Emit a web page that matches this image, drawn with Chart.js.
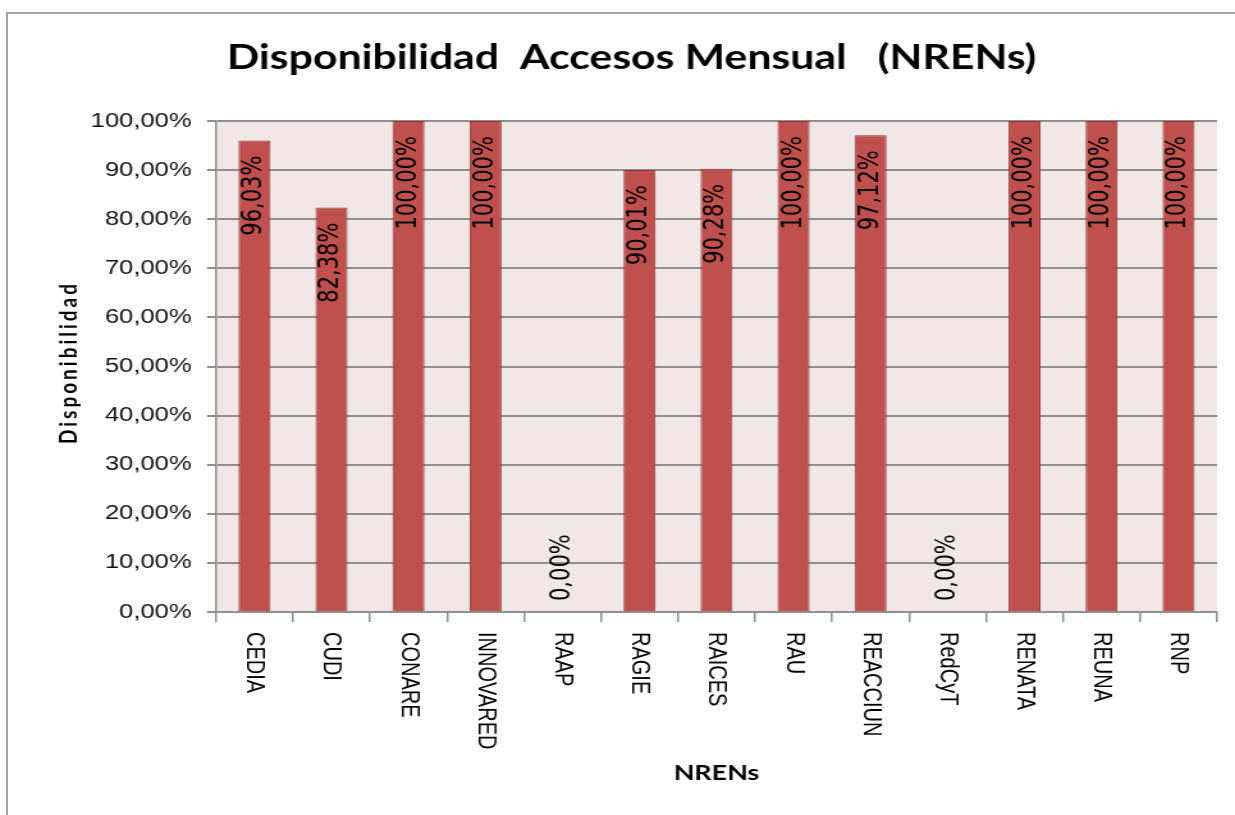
<!DOCTYPE html>
<html>
<head>
<meta charset="utf-8">
<script src="https://cdn.jsdelivr.net/npm/chart.js@4/dist/chart.umd.min.js"></script>
<style>
  html, body { margin: 0; padding: 0; background: #fff; overflow: hidden; }
  #frame {
    position: absolute; left: 6px; top: 12px;
    width: 1400px; height: 1000px;
    border: 2px solid #a6a6a6;
  }
  /* the reference is an Excel chart stretched wide, so the chart is drawn narrow and widened */
  #stretch {
    position: absolute; left: 0; top: 0;
    width: 965px; height: 815px;
    transform: scaleX(1.2798);
    transform-origin: 0 0;
  }
</style>
</head>
<body>
<div id="frame"></div>
<div id="stretch"><canvas id="chart" width="965" height="815"></canvas></div>
<script>
const categories = ['CEDIA', 'CUDI', 'CONARE', 'INNOVARED', 'RAAP', 'RAGIE', 'RAICES',
  'RAU', 'REACCIUN', 'RedCyT', 'RENATA', 'REUNA', 'RNP']
const availability = [96.03, 82.38, 100, 100, 0, 90.01, 90.28, 100, 97.12, 0, 100, 100, 100]
const yTicks = [0, 10, 20, 30, 40, 50, 60, 70, 80, 90, 100]

const chartTitle = 'Disponibilidad  Accesos Mensual   (NRENs)'
const xTitle = 'NRENs'
const yTitle = 'Disponibilidad'

const gridGray = '#8f8f8f'

function formatPercent(value) {
  return value.toFixed(2).replace('.', ',') + '%'
}

// plot background, rotated category names, value labels, y title
const excelLook = {
  id: 'excelLook',
  beforeDraw(chart) {
    const { ctx, chartArea } = chart
    ctx.save()
    ctx.fillStyle = '#f2e7e7'
    ctx.fillRect(chartArea.left, chartArea.top, chartArea.right - chartArea.left, chartArea.bottom - chartArea.top)
    ctx.restore()
  },
  afterDraw(chart) {
    const { ctx, chartArea } = chart
    const xScale = chart.scales.x
    const meta = chart.getDatasetMeta(0)

    ctx.save()
    ctx.fillStyle = '#000'
    ctx.font = '20px "Liberation Sans", Arial, sans-serif'
    ctx.textBaseline = 'middle'
    ctx.textAlign = 'left'
    categories.forEach((name, i) => {
      ctx.save()
      ctx.translate(xScale.getPixelForValue(i), chartArea.bottom + 20)
      ctx.rotate(Math.PI / 2)
      ctx.fillText(name, 0, 0)
      ctx.restore()
    })

    ctx.font = '21px "DejaVu Sans", sans-serif'
    meta.data.forEach((bar, i) => {
      const value = availability[i]
      ctx.save()
      if (value === 0) {
        ctx.translate(bar.x, bar.base - 11)
        ctx.rotate(-Math.PI / 2)
        ctx.textAlign = 'left'
      } else {
        ctx.translate(bar.x, bar.y + 15)
        ctx.rotate(-Math.PI / 2)
        ctx.textAlign = 'right'
      }
      ctx.fillText(formatPercent(value), 0, 0)
      ctx.restore()
    })

    ctx.font = 'bold 19px Lato, sans-serif'
    ctx.letterSpacing = '3px'
    ctx.textAlign = 'center'
    ctx.translate(53.5, (chartArea.top + chartArea.bottom) / 2 - 4)
    ctx.rotate(-Math.PI / 2)
    ctx.fillText(yTitle, 0, 0)
    ctx.restore()
  }
}

new Chart(document.getElementById('chart'), {
  type: 'bar',
  data: {
    labels: categories,
    datasets: [{
      label: 'Disponibilidad',
      data: availability,
      backgroundColor: '#c0504d',
      borderColor: '#8c3836',
      borderWidth: 1,
      barPercentage: 0.415,
      categoryPercentage: 1
    }]
  },
  options: {
    responsive: false,
    animation: false,
    devicePixelRatio: 1,
    layout: {
      padding: { left: 36, right: 14, top: 0, bottom: 0 }
    },
    plugins: {
      legend: { display: false },
      tooltip: { enabled: false },
      title: {
        display: true,
        text: chartTitle,
        color: '#000',
        font: { family: 'Lato', size: 33.4, weight: 'bold' },
        padding: { top: 38, bottom: 43 }
      }
    },
    scales: {
      x: {
        offset: true,
        grid: {
          offset: true,
          drawOnChartArea: false,
          drawTicks: true,
          tickLength: 10,
          color: gridGray,
          lineWidth: 1.5
        },
        border: { color: gridGray, width: 2 },
        ticks: { display: false },
        title: {
          display: true,
          text: xTitle,
          color: '#000',
          font: { family: 'Lato', size: 21, weight: 'bold' },
          padding: { top: 0, bottom: 29 }
        },
        afterFit(scale) {
          scale.height = 203
        }
      },
      y: {
        min: 0,
        max: 100,
        afterBuildTicks(scale) {
          scale.ticks = yTicks.map(v => ({ value: v }))
        },
        grid: {
          color: gridGray,
          lineWidth: 2,
          tickLength: 7
        },
        border: { color: gridGray, width: 1.5 },
        ticks: {
          padding: 12,
          color: '#111',
          font: { family: 'Liberation Sans', size: 20 },
          callback: value => formatPercent(value)
        },
        afterFit(scale) {
          scale.width = 168.75 - 36
        }
      }
    }
  },
  plugins: [excelLook]
})
</script>
</body>
</html>
